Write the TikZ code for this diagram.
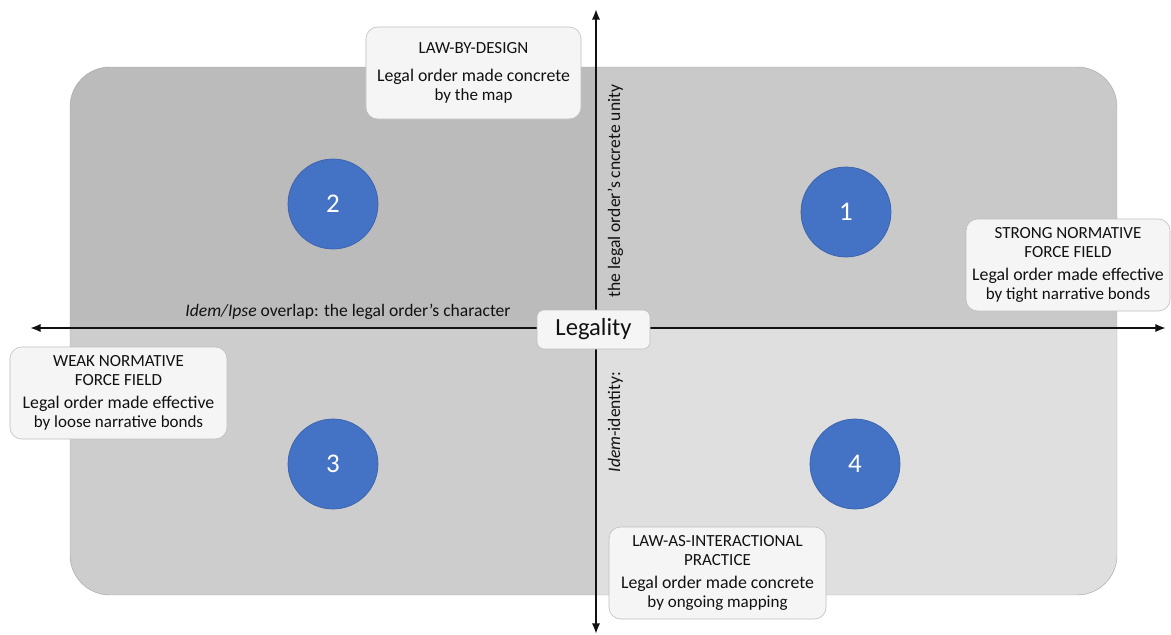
\documentclass[tikz,border=0pt]{standalone}
\usepackage{fontspec}
\setmainfont{Carlito}
\usetikzlibrary{arrows.meta}
\definecolor{qul}{HTML}{BBBBBB}
\definecolor{qur}{HTML}{C9C9C9}
\definecolor{qll}{HTML}{CDCDCD}
\definecolor{qlr}{HTML}{DFDFDF}
\definecolor{panelrim}{HTML}{A8A8A8}
\definecolor{boxfill}{HTML}{F5F5F5}
\definecolor{boxrim}{HTML}{BDBDBD}
\definecolor{disc}{HTML}{4472C4}
\definecolor{discrim}{HTML}{3A62AC}
\definecolor{ink}{HTML}{111111}
\newcommand{\tsz}{\fontsize{14.5}{16.4}\selectfont}
\newcommand{\bsz}{\fontsize{15.2}{18}\selectfont}
\tikzset{
  axis/.style={line width=1.6pt, ink, {Latex[length=9pt,width=7pt]}-{Latex[length=9pt,width=7pt]}},
  labelbox/.style={draw=boxrim, fill=boxfill, rounded corners=10pt, line width=0.5pt,
    minimum width=6.45cm, minimum height=2.76cm, align=center, text=ink, inner sep=2pt,
    font=\tsz},
  quadnum/.style={circle, fill=disc, draw=discrim, line width=0.6pt, minimum size=2.7cm,
    text=white, font=\fontsize{23}{27}\selectfont},
  axislabel/.style={text=ink, font=\fontsize{15}{17}\selectfont, inner sep=0pt}
}
\begin{document}
\begin{tikzpicture}[x=0.03cm,y=-0.03cm]
  % canvas
  \fill[white] (0,0) rectangle (1171,634);
  \useasboundingbox (0,0) rectangle (1171,634);

  % four shaded quadrants clipped to one rounded panel
  \begin{scope}
    \clip[rounded corners=1.2cm] (70,67) rectangle (1117,595);
    \fill[qul] (70,67) rectangle (596,328);
    \fill[qur] (596,67) rectangle (1117,328);
    \fill[qll] (70,328) rectangle (596,595);
    \fill[qlr] (596,328) rectangle (1117,595);
  \end{scope}
  \draw[panelrim, line width=0.4pt, rounded corners=1.2cm] (70,67) rectangle (1117,595);

  % axis end points
  \coordinate (west) at (30,328);
  \coordinate (east) at (1166,328);
  \coordinate (north) at (596,9);
  \coordinate (south) at (596,634);

  \draw[axis] (west) -- (east);
  \draw[axis] (south) -- (north);

  % axis captions
  \node[axislabel, anchor=base] (hcap) at (348,316)
    {\textit{Idem/Ipse} overlap: the legal order’s character};
  \node[axislabel, rotate=90, anchor=base] (vcaptop) at (620,191)
    {the legal order’s cncrete unity};
  \node[axislabel, rotate=90, anchor=base] (vcapbot) at (620,422)
    {\textit{Idem}-identity:};

  % centre label
  \node[draw=boxrim, fill=boxfill, rounded corners=6pt, line width=0.5pt,
        minimum width=3.39cm, minimum height=1.17cm, text=ink,
        font=\fontsize{21}{24}\selectfont] (legality) at (593.5,329.5) {Legality};

  % numbered quadrant discs
  \node[quadnum] (q1) at (846,212) {1};
  \node[quadnum] (q2) at (333,204) {2};
  \node[quadnum] (q3) at (333,464) {3};
  \node[quadnum] (q4) at (855,464) {4};

  % descriptive boxes
  \node[labelbox] (design) at (473.5,73)
    {LAW-BY-DESIGN\\[7pt]\bsz Legal order made concrete\\by the map};
  \node[labelbox, minimum width=6.12cm] (strong) at (1068,265)
    {STRONG NORMATIVE\\FORCE FIELD\\[3pt]\bsz Legal order made effective\\by tight narrative bonds};
  \node[labelbox, minimum width=6.51cm] (weak) at (118.5,393)
    {WEAK NORMATIVE\\FORCE FIELD\\[3pt]\bsz Legal order made effective\\by loose narrative bonds};
  \node[labelbox, minimum width=6.51cm] (practice) at (717.5,573)
    {LAW-AS-INTERACTIONAL\\PRACTICE\\[3pt]\bsz Legal order made concrete\\by ongoing mapping};
\end{tikzpicture}
\end{document}
